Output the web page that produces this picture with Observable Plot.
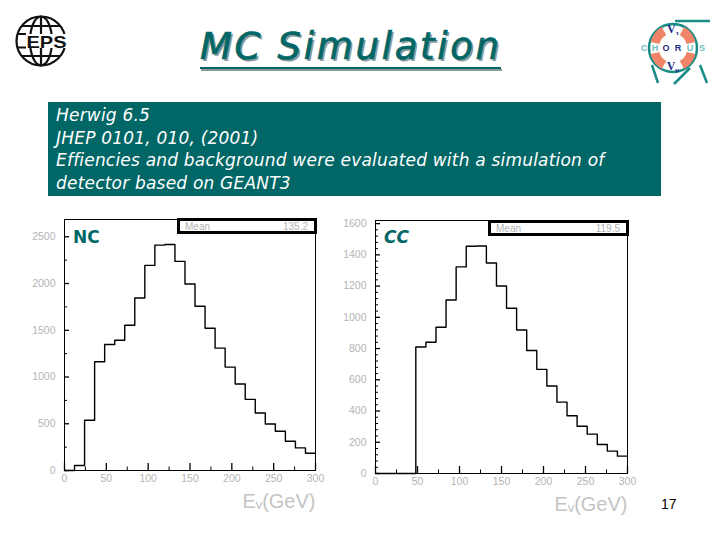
<!DOCTYPE html>
<html><head><meta charset="utf-8">
<script src="https://cdn.jsdelivr.net/npm/d3@7"></script>
<script src="https://cdn.jsdelivr.net/npm/@observablehq/plot@0.6"></script>
<style>
html,body{margin:0;padding:0;background:#fff;width:720px;height:540px;overflow:hidden}
.abs{position:absolute;white-space:pre}
#title{left:200px;top:25px;font:italic 37px "DejaVu Sans";color:#006666;-webkit-text-stroke:0.7px #006666;text-shadow:2px 2px 0 #8a9a9a;letter-spacing:2.7px}
#rule{left:200px;top:67px;width:301px;height:2px;background:#006666;box-shadow:1px 2px 0 #8a9a9a}
#box{left:48px;top:102px;width:613px;height:94px;background:#006666}
#boxtext{left:56px;top:104px;font:italic 17px/22.5px "DejaVu Sans";color:#fff;letter-spacing:0.2px}
.lab{font-weight:bold;color:#006666;font-family:"DejaVu Sans"}
.stat{box-sizing:border-box;border:3px solid #000;background:#fff;font:10px "Liberation Sans";color:#b4b4b4;display:flex;justify-content:space-between;align-items:center;padding:0 6px 0 5px}
#pg{left:661px;top:496px;font:14px "Liberation Sans";color:#000}
svg{overflow:visible}
</style></head><body>
<div class="abs" id="title">MC Simulation</div><div class="abs" id="rule"></div>
<div class="abs" id="box"></div>
<div class="abs" id="boxtext"></div>

<svg class="abs" style="left:13.5px;top:14px" width="54" height="54" viewBox="0 0 54 54" fill="none" stroke="#111" stroke-width="2.2">
<circle cx="27" cy="27" r="24.5"/><ellipse cx="27" cy="27" rx="11" ry="24.5"/><path d="M27 2.5V51.5M7 12H47M7 42H47"/>
<rect x="11" y="20" width="43" height="14" fill="#fff" stroke="none"/>
<text x="32.5" y="33.5" text-anchor="middle" font-family="Liberation Sans" font-weight="bold" font-size="17" fill="#111" stroke="none" textLength="40" lengthAdjust="spacingAndGlyphs">EPS</text>
<path d="M3 20H12M3 33.5H12" stroke-width="2"/>
</svg>

<svg class="abs" style="left:640px;top:18px" width="76" height="70" viewBox="0 0 76 70" fill="none">
<path d="M70 3H35" stroke="#1a8c86" stroke-width="2.5"/>
<circle cx="33" cy="30" r="24" stroke="#1a8c86" stroke-width="2.5"/>
<path d="M12 47L18 65M60 47L67 65M50 50L34 66" stroke="#1a8c86" stroke-width="2.5"/>
<path d="M24 13A19 19 0 0 0 15 25" stroke="#f08468" stroke-width="9"/><path d="M42 13A19 19 0 0 1 51 25" stroke="#f08468" stroke-width="9"/>
<path d="M15 35A19 19 0 0 0 24 47" stroke="#f08468" stroke-width="9"/><path d="M51 35A19 19 0 0 1 42 47" stroke="#f08468" stroke-width="9"/>
<g font-family="Liberation Sans" font-weight="bold" font-size="9" text-anchor="middle">
<text x="4" y="33" fill="#6fc0bc">C</text><text x="15" y="33" fill="#6fc0bc">H</text>
<text x="26" y="33" fill="#1d2f8a">O</text><text x="38" y="33" fill="#1d2f8a">R</text>
<text x="50" y="33" fill="#6fc0bc">U</text><text x="62" y="33" fill="#6fc0bc">S</text></g>
<text x="33" y="15" text-anchor="middle" font-family="Liberation Serif" font-weight="bold" font-size="12" fill="#1d2f8a">V<tspan font-size="7" dy="2">τ</tspan></text>
<text x="33" y="52" text-anchor="middle" font-family="Liberation Serif" font-weight="bold" font-size="12" fill="#1d2f8a">V<tspan font-size="7" dy="2">μ</tspan></text>
</svg>

<div class="abs" id="pg">17</div>
<script>
const infoLines = ["Herwig 6.5","JHEP 0101, 010, (2001)","Effiencies and background were evaluated with a simulation of","detector based on GEANT3"];
const binEdges = [0,12,24,36,48,60,72,84,96,108,120,132,144,156,168,180,192,204,216,228,240,252,264,276,288,300];
const ncCounts = [0,53,537,1163,1348,1394,1554,1846,2194,2411,2418,2237,1995,1757,1522,1309,1106,925,761,615,498,420,313,242,185];
const ccCounts = [0,0,0,0,810,840,936,1111,1323,1455,1457,1348,1201,1058,919,788,667,560,457,370,303,252,186,143,111];
const xMajor = [0,50,100,150,200,250,300];
const xMinor = [25,75,125,175,225,275];
const ncMajor = [0,500,1000,1500,2000,2500];
const ncMinor = [250,750,1250,1750,2250];
const ccMajor = [0,200,400,600,800,1000,1200,1400,1600];
const ccMinor = [40,80,120,160,240,280,320,360,440,480,520,560,640,680,720,760,840,880,920,960,1040,1080,1120,1160,1240,1280,1320,1360,1440,1480,1520,1560];
const xLabel = "Eᵥ(GeV)";

document.getElementById("boxtext").textContent = infoLines.join("\n");

function panel({counts,yMax,major,minor,left,margins,name,nameStyle,mean,statStyle}){
  const pts = binEdges.map((e,i)=>({e,c:i<counts.length?counts[i]:counts[counts.length-1]}));
  const tick = {tickSize:0,fill:"#b4b4b4",fontSize:10.5,label:null,tickFormat:"d"};
  const plotH = 310-margins.marginTop-margins.marginBottom, plotW = 340-margins.marginLeft-margins.marginRight;
  const ky = yMax/plotH, kx = 300/plotW;
  const svg = Plot.plot({
    width:340,height:310,...margins,
    style:{background:"transparent",fontFamily:"Liberation Sans",overflow:"visible"},
    x:{domain:[0,300]},y:{domain:[0,yMax]},
    marks:[
      Plot.frame({stroke:"#000",strokeWidth:1}),
      Plot.axisX(xMajor,{...tick,tickPadding:4}),
      Plot.axisY(major,{...tick,tickPadding:9}),
      Plot.ruleX(xMajor,{x:d=>d,y1:0,y2:7*ky,stroke:"#000",strokeWidth:1.3}),
      Plot.ruleX(xMinor,{x:d=>d,y1:0,y2:3.5*ky,stroke:"#000",strokeWidth:1}),
      Plot.ruleY(major,{y:d=>d,x1:0,x2:5*kx,stroke:"#000",strokeWidth:1.3}),
      Plot.ruleY(minor,{y:d=>d,x1:0,x2:3*kx,stroke:"#000",strokeWidth:1}),
      Plot.line(pts,{x:"e",y:"c",curve:"step-after",stroke:"#000",strokeWidth:1.4}),
      Plot.text([xLabel],{text:d=>d,frameAnchor:"bottom-right",textAnchor:"end",dy:37,fontSize:20,fill:"#c4c4c4"})
    ]
  });
  svg.setAttribute("class","abs");
  svg.style.left=left+"px";svg.style.top="205px";
  document.body.appendChild(svg);
  const n=document.createElement("div");n.className="abs lab";n.textContent=name;n.style.cssText+=nameStyle;document.body.appendChild(n);
  const s=document.createElement("div");s.className="abs stat";s.style.cssText+=statStyle;
  s.innerHTML="<span>Mean</span><span>"+mean+"</span>";document.body.appendChild(s);
}
panel({counts:ncCounts,yMax:2685,major:ncMajor,minor:ncMinor,left:0,
  margins:{marginLeft:64,marginRight:25,marginTop:14,marginBottom:45},
  name:"NC",nameStyle:"left:73px;top:227px;font-size:17px;",mean:"135.2",statStyle:"left:177px;top:218px;width:140px;height:16px;"});
panel({counts:ccCounts,yMax:1620,major:ccMajor,minor:ccMinor,left:335,
  margins:{marginLeft:40,marginRight:48,marginTop:15,marginBottom:42},
  name:"CC",nameStyle:"left:384px;top:227px;font-size:17px;font-style:italic;",mean:"119.5",statStyle:"left:488px;top:220px;width:141px;height:16px;"});
</script>
</body></html>
